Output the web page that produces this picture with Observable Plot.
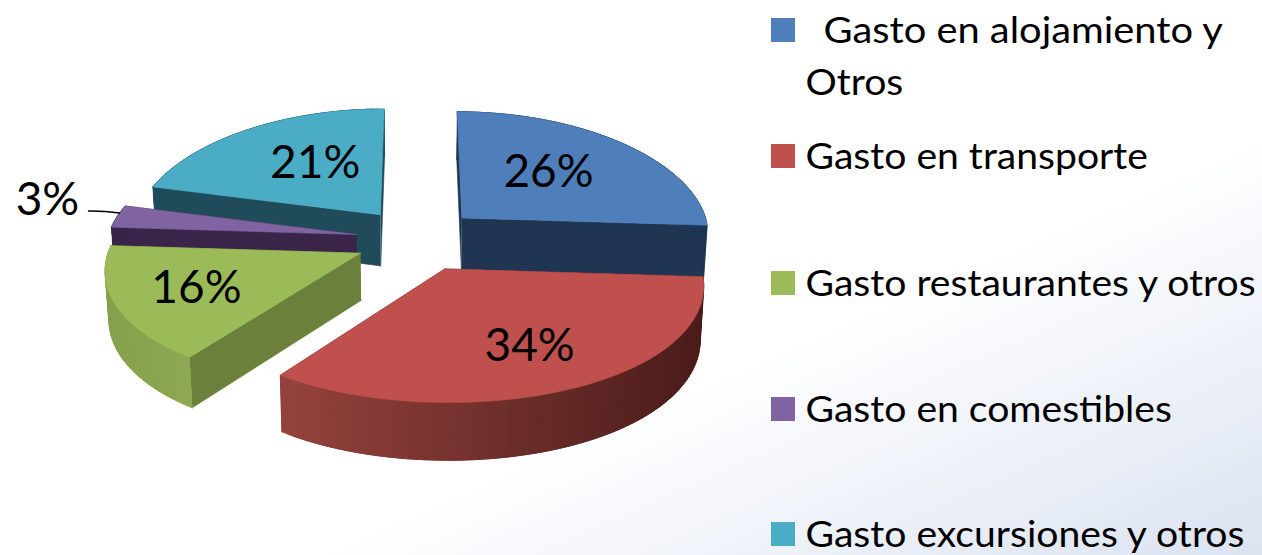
<!DOCTYPE html>
<html><head><meta charset="utf-8">
<script src="https://cdn.jsdelivr.net/npm/d3@7"></script>
<script src="https://cdn.jsdelivr.net/npm/@observablehq/plot@0.6"></script>
<style>html,body{margin:0;padding:0;background:#fff;overflow:hidden}</style>
</head><body><div id="chart"></div>
<script>
// Data
const categories = ["Gasto en alojamiento y Otros","Gasto en transporte","Gasto restaurantes y otros","Gasto en comestibles","Gasto excursiones y otros"];
const shares = [26,34,16,3,21];
const legendLines = [["Gasto en alojamiento y","Otros"],["Gasto en transporte"],["Gasto restaurantes y otros"],["Gasto en comestibles"],["Gasto excursiones y otros"]];

// Styles
const topColors = ["#4f7fbb","#c0504d","#9bbb59","#8064a2","#4bacc6"];
const wallColors = ["#1f3552","#4f1f1d","#6b803a","#3a2449","#1f4b5b"];
const rimLeft = ["#1f3552","#96423d","#85a04c","#3a2449","#1f4b5b"];
const rimRight = ["#1f3552","#4a1c1a","#8ea853","#3a2449","#1f4b5b"];
const paintOrder = [4,0,3,2,1];
// Projection settings of the tilted disc
const geo = {cx:417, cy:239, R:249, ry:118, k:0.08, kx:0.12, ex:0.25, ey:0.27, depth:52, shrink:0.012};
const sliceDepth = [1,1,0.9,1,1];
const labelNudge = [[-5,-4],[19,14],[-33,6],[-23,-13],[11,-4]];

// Slice angles come only from shares
const total = d3.sum(shares);
let acc = 0;
const slices = shares.map((v,i)=>{const a0=acc/total*2*Math.PI; acc+=v; const a1=acc/total*2*Math.PI; return {i,v,a0,a1,mid:(a0+a1)/2};});

function project(sl,a,rho,z){
  const X = geo.ex*Math.sin(sl.mid)+rho*Math.sin(a);
  const Y = -geo.ey*Math.cos(sl.mid)-rho*Math.cos(a);
  const s = 1/(1-geo.k*Y), sx = 1/(1-geo.kx*Y);
  return {x:geo.cx+geo.R*X*sx*(1-geo.shrink*z), y:geo.cy+geo.ry*Y*s+z*geo.depth*sliceDepth[sl.i]*s};
}
const facets = [];
let nid = 0;
function addFacet(pts,fill){const id=nid++; pts.forEach(p=>facets.push({id,fill,x:p.x,y:p.y}));}
for(const idx of paintOrder){
  const sl = slices[idx];
  const n = Math.max(4,Math.ceil((sl.a1-sl.a0)/(Math.PI/120)));
  const angles = d3.range(n+1).map(j=>sl.a0+(sl.a1-sl.a0)*j/n);
  for(const a of [sl.a0,sl.a1]){
    addFacet([project(sl,a,0,0),project(sl,a,1,0),project(sl,a,1,1),project(sl,a,0,1)],wallColors[idx]);
  }
  const xs = angles.map(a=>project(sl,a,1,0).x);
  const [xmin,xmax] = d3.extent(xs);
  const shade = d3.interpolateRgb(rimLeft[idx],rimRight[idx]);
  // each rim strip runs under the next one so no seam shows between them
  for(let j=n-1;j>=0;j--){
    const b = angles[Math.min(j+1,n)], c = angles[Math.max(j-2,0)];
    addFacet([project(sl,c,1,0),project(sl,b,1,0),project(sl,b,1,1),project(sl,c,1,1)],
      shade(((xs[j]+xs[j+1])/2-xmin)/(xmax-xmin)));
  }
  addFacet([project(sl,sl.a0,0,0),...angles.map(a=>project(sl,a,1,0)),project(sl,sl.a1,0,0)],topColors[idx]);
}
// Percent labels sit on each slice's mid angle
const labelRadius = [0.55,0.55,0.55,1.2,0.55];
const labels = slices.map(sl=>{const p=project(sl,sl.mid,labelRadius[sl.i],0);return {text:sl.v+"%",x:p.x+labelNudge[sl.i][0],y:p.y+labelNudge[sl.i][1]};});
const leaderEnd = project(slices[3],slices[3].mid+0.03,1.0,0);
const leader = [{x:leaderEnd.x-31,y:leaderEnd.y-2},{x:leaderEnd.x-14,y:leaderEnd.y-2},{x:leaderEnd.x,y:leaderEnd.y}];

// Legend layout
const rowY = [30,156,283,409,534];
const legendRects = rowY.map((y,i)=>({y1:y-12,y2:y+12,fill:topColors[i],name:categories[i]}));
const legendIndent = [[823,805],[805],[805],[805],[805]];
const legendStretch = [[1.106,1.086],[1.086],[1.086],[1.086],[1.086]];
const legendText = [];
legendLines.forEach((lines,i)=>lines.forEach((t,j)=>legendText.push({t,x:legendIndent[i][j],y:rowY[i]+j*52+1,stretch:legendStretch[i][j]})));

const font = "Lato, Carlito, Calibri, sans-serif";
const plot = Plot.plot({
  width:1262,height:555,margin:0,
  x:{type:"linear",domain:[0,1262],range:[0,1262],axis:null},
  y:{type:"linear",domain:[0,555],range:[0,555],axis:null},
  color:{type:"identity"},
  style:{background:"linear-gradient(to bottom right,#ffffff 62%,#dbe3f1 100%)",fontFamily:font},
  marks:[
    Plot.line(facets,{x:"x",y:"y",z:"id",fill:"fill",stroke:"fill",strokeWidth:0.6,curve:"linear"}),
    Plot.line(leader,{x:"x",y:"y",stroke:"#000",strokeWidth:1.5,curve:"basis"}),
    Plot.text(labels,{x:"x",y:"y",text:"text",fontSize:46,fill:"#000",textAnchor:"middle",lineAnchor:"middle"}),
    Plot.rect(legendRects,{x1:()=>771,x2:()=>795,y1:"y1",y2:"y2",fill:"fill"}),
    Plot.text(legendText,{x:"x",y:"y",text:"t",fontSize:36,fill:"#000",textAnchor:"start",lineAnchor:"middle",className:"legend-label"})
  ]
});
plot.style.display="block";
document.getElementById("chart").appendChild(plot);
// Legend type is wider than the installed face: stretch the real text to the measured width
plot.querySelectorAll(".legend-label text").forEach((t,i)=>{
  t.setAttribute("lengthAdjust","spacingAndGlyphs");
  t.setAttribute("textLength",t.getComputedTextLength()*legendText[i].stretch);
});
</script></body></html>
